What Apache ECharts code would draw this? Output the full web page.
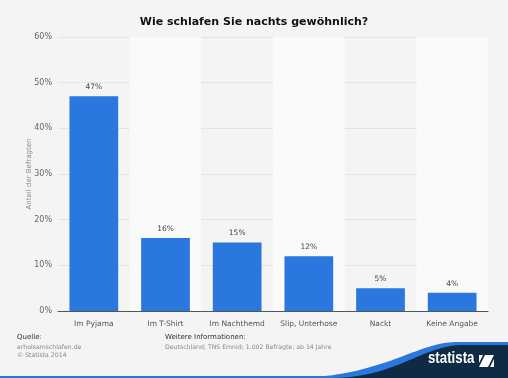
<!DOCTYPE html>
<html><head><meta charset="utf-8">
<script src="https://cdn.jsdelivr.net/npm/echarts@6/dist/echarts.min.js"></script>
<style>html,body{margin:0;padding:0;background:#f4f4f4;}#c{width:508px;height:378px;}</style>
</head><body><div id="c"></div>
<script>
const categories = ['Im Pyjama','Im T-Shirt','Im Nachthemd','Slip, Unterhose','Nackt','Keine Angabe'];
const values = [47,16,15,12,5,4];
const yTicks = [0,10,20,30,40,50,60];
const FONT = '"DejaVu Sans", Verdana, sans-serif';

function swoosh(p0, c1, c2, p3) {
  const pts = [];
  for (let i = 0; i <= 40; i++) {
    const t = i / 40, u = 1 - t;
    pts.push([
      u*u*u*p0[0] + 3*u*u*t*c1[0] + 3*u*t*t*c2[0] + t*t*t*p3[0],
      u*u*u*p0[1] + 3*u*u*t*c1[1] + 3*u*t*t*c2[1] + t*t*t*p3[1]
    ]);
  }
  pts.push([508, p3[1]], [508, 378]);
  return pts;
}

const chart = echarts.init(document.getElementById('c'), null, {renderer:'canvas'});
chart.setOption({
  backgroundColor:'#f4f4f4',
  animation:false,
  title:{text:'Wie schlafen Sie nachts gewöhnlich?', left:'center', top:12,
    textStyle:{fontFamily:FONT, fontSize:11, fontWeight:'bold', color:'#111'}},
  grid:{left:58, right:20, top:37, bottom:67},
  xAxis:{type:'category', data:categories,
    axisLine:{lineStyle:{color:'#555', width:1}},
    axisTick:{show:false},
    axisLabel:{fontFamily:FONT, fontSize:7.5, color:'#555', margin:9, interval:0},
    splitArea:{show:true, areaStyle:{color:['rgba(0,0,0,0)','#fafafa']}}},
  yAxis:{type:'value', min:0, max:60, interval:10,
    name:'Anteil der Befragten', nameLocation:'middle', nameGap:25, nameMoveOverlap:false,
    nameTextStyle:{fontFamily:FONT, fontSize:7, color:'#888'},
    axisLine:{show:false}, axisTick:{show:false},
    axisLabel:{fontFamily:FONT, fontSize:8, color:'#666', formatter:'{value}%', margin:6},
    splitLine:{lineStyle:{color:'#e4e4e4'}}},
  series:[{type:'bar', data:values, barCategoryGap:'32%',
    itemStyle:{color:'#2a77dd'},
    label:{show:true, position:'top', formatter:'{c}%', fontFamily:FONT, fontSize:7.5, color:'#444', distance:5}}],
  graphic:[
    {type:'text', x:17, y:334, style:{text:'Quelle:', font:'7px '+FONT, fill:'#333'}},
    {type:'text', x:17, y:344, style:{text:'erholsamschlafen.de', font:'6.2px '+FONT, fill:'#888'}},
    {type:'text', x:17, y:352, style:{text:'© Statista 2014', font:'6.2px '+FONT, fill:'#888'}},
    {type:'text', x:165, y:334, style:{text:'Weitere Informationen:', font:'7px '+FONT, fill:'#333'}},
    {type:'text', x:165, y:344, style:{text:'Deutschland; TNS Emnid; 1.002 Befragte; ab 14 Jahre', font:'6.2px '+FONT, fill:'#888'}},
    {type:'rect', shape:{x:0, y:376, width:508, height:2}, style:{fill:'#2a77dd'}},
    {type:'polygon', shape:{points:swoosh([290,378],[380,378],[415,343],[455,342])}, style:{fill:'#2a77dd'}},
    {type:'polygon', shape:{points:swoosh([330,378],[395,378],[420,347],[460,345])}, style:{fill:'#0e2a45'}},
    {type:'text', x:428, y:350, scaleX:0.78, style:{text:'statista', font:'bold 17px "Liberation Sans", Arial, sans-serif', fill:'#fff'}},
    {type:'polygon', shape:{points:[[479,367],[485,355],[494,355],[488,367]]}, style:{fill:'#fff'}},
    {type:'polygon', shape:{points:[[479,355],[483,355],[479,363]]}, style:{fill:'#fff'}},
    {type:'polygon', shape:{points:[[494,359],[494,367],[490,367]]}, style:{fill:'#fff'}}
  ]
});
</script></body></html>
